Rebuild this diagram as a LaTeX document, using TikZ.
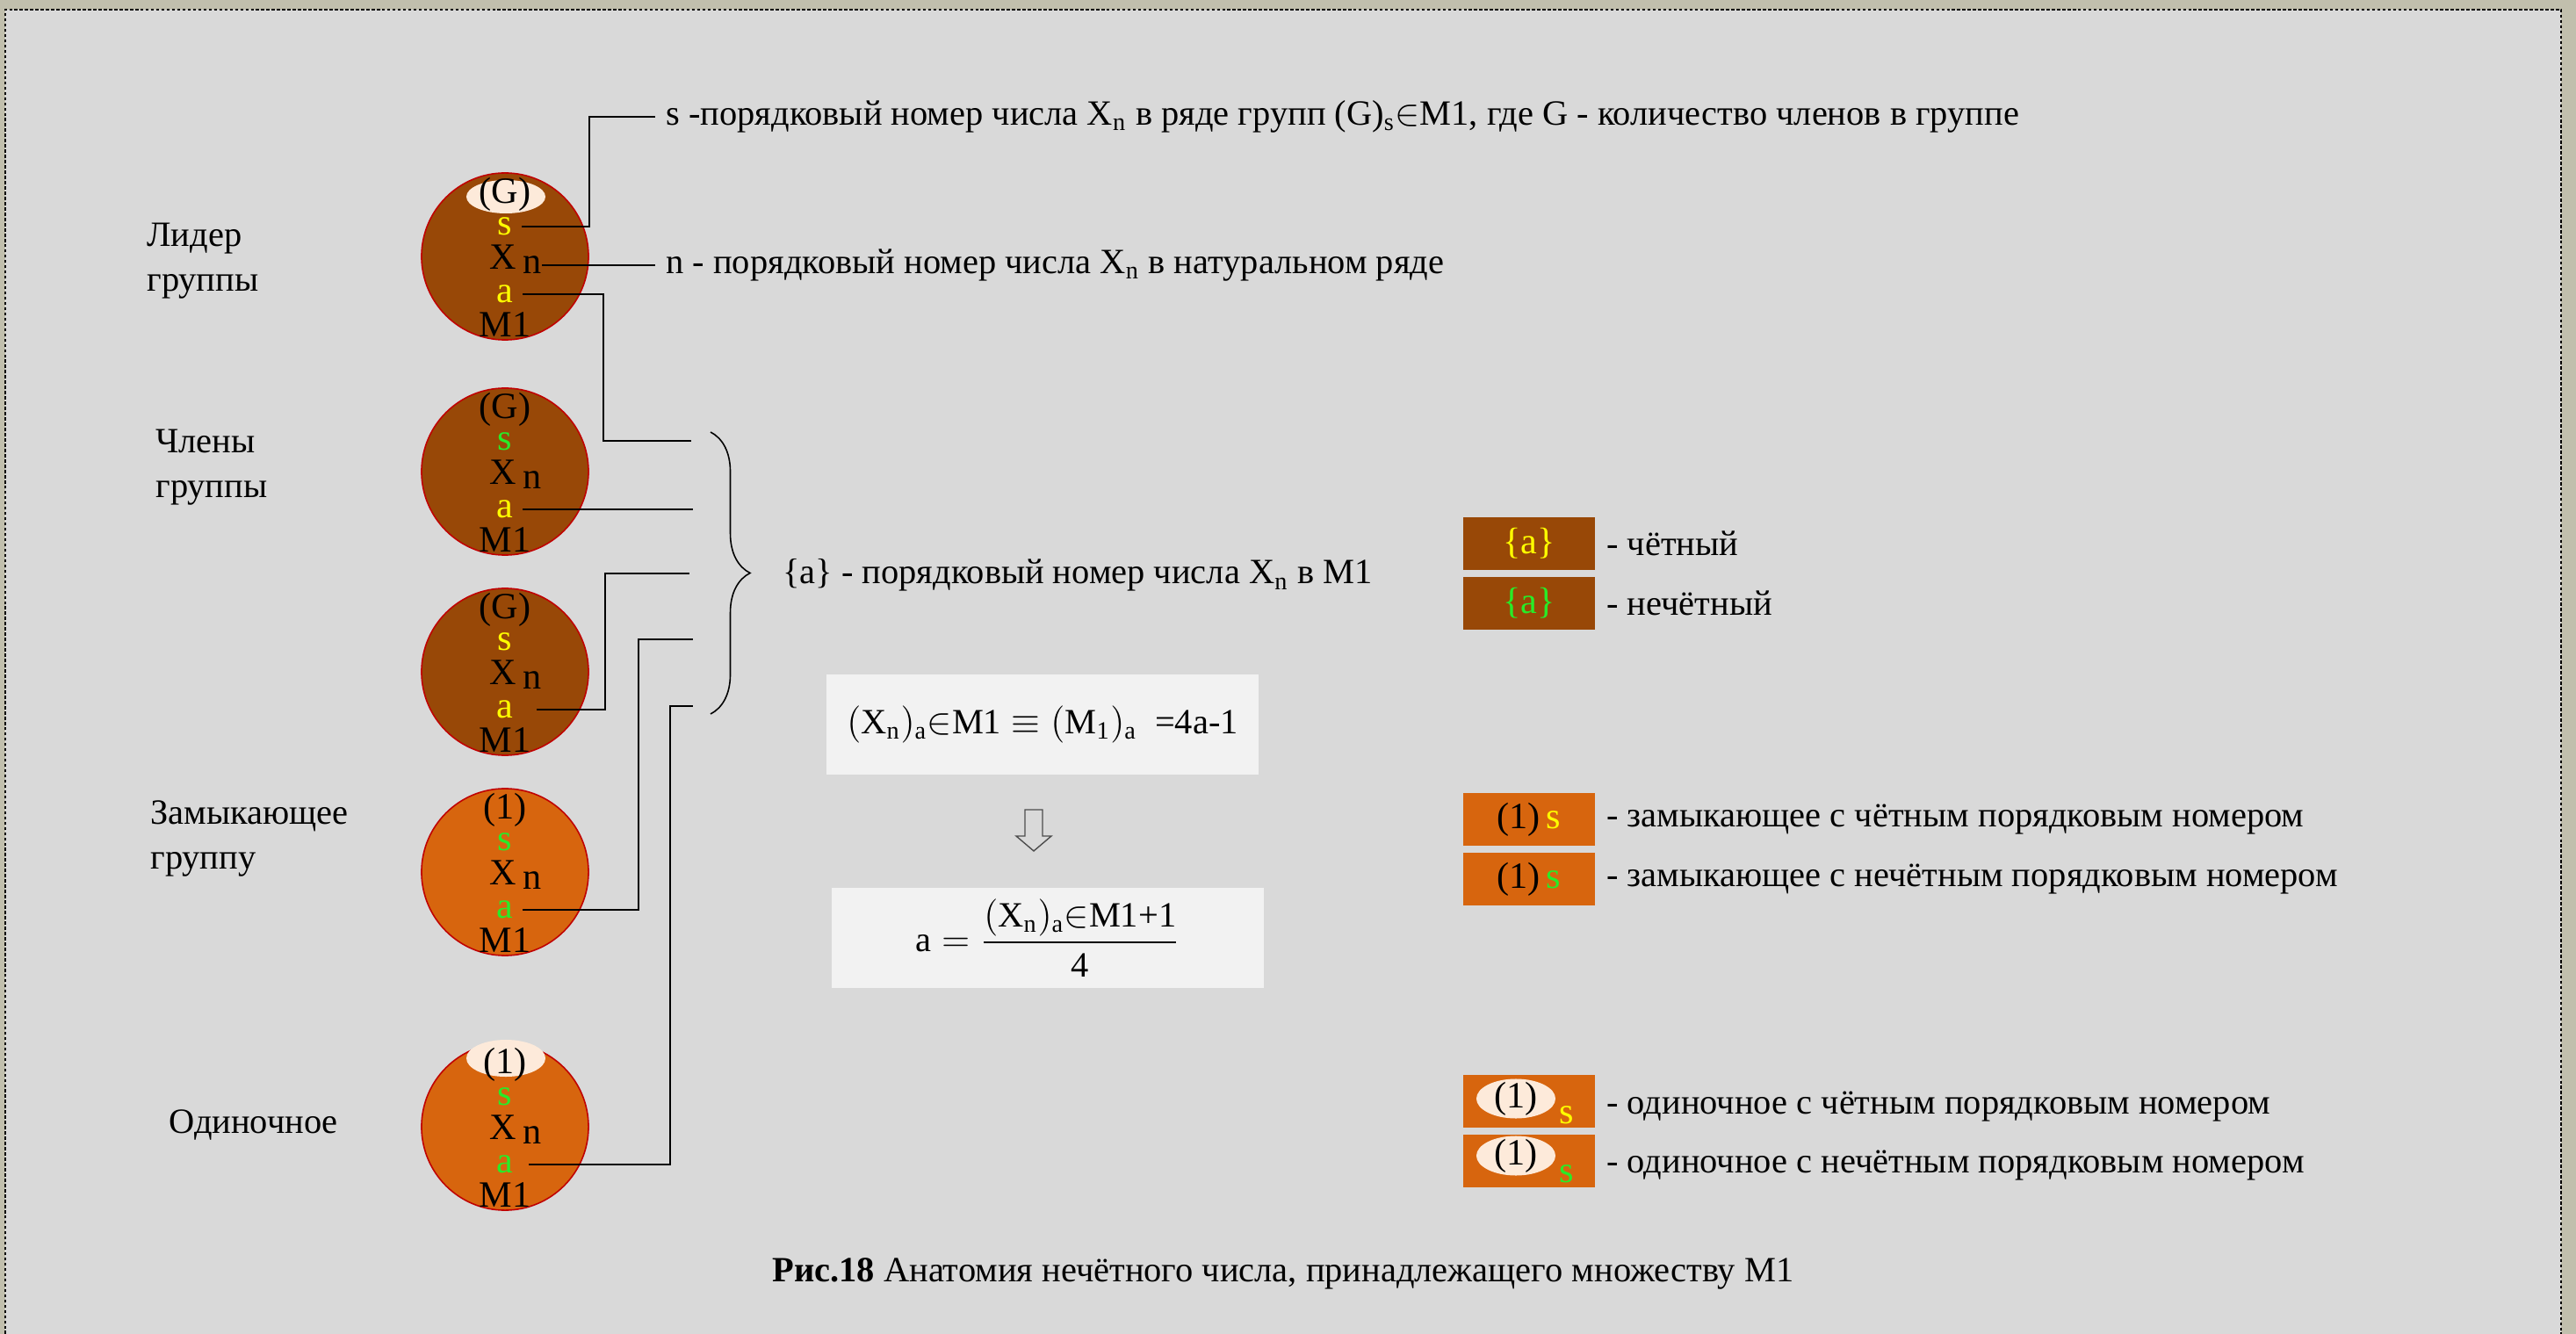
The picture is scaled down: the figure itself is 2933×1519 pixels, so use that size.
\documentclass[tikz,border=0pt]{standalone}
\usepackage{fontspec}
\usepackage{amsmath}
\setmainfont{Liberation Serif}
\usetikzlibrary{calc,decorations.pathreplacing}

\definecolor{bgrey}{RGB}{217,217,217}
\definecolor{frame}{RGB}{193,191,173}
\definecolor{brownM}{RGB}{152,72,7}
\definecolor{orangeM}{RGB}{215,101,14}
\definecolor{paleM}{RGB}{253,234,218}
\definecolor{boxgrey}{RGB}{242,242,242}
\definecolor{evenc}{RGB}{255,255,0}
\definecolor{oddc}{RGB}{40,235,40}
\definecolor{rimc}{RGB}{192,0,0}

\tikzset{
  txt/.style={font=\fontsize{11.5}{14.5}\selectfont, align=left},
  ball/.style={circle, draw=rimc, line width=0.45pt, minimum size=1.9cm, inner sep=0},
  inball/.style={font=\fontsize{12}{13}\selectfont, inner sep=0},
  tag/.style={inball, inner xsep=0.1cm},
  lgbox/.style={minimum width=1.5cm, minimum height=0.6cm, inner sep=0, font=\fontsize{12}{13}\selectfont},
  fbox/.style={fill=boxgrey, minimum width=4.92cm, minimum height=1.14cm, font=\fontsize{11.5}{13}\selectfont},
  wire/.style={line width=0.45pt}
}

\begin{document}
\begin{tikzpicture}[x=0.01cm, y=-0.01cm]
    \useasboundingbox (0,0) rectangle (2933,1519);

    %frame
    \fill[frame] (0,0) rectangle (2933,1519);
    \fill[bgrey] (6,11) rectangle (2916,1519);
    \draw[dash pattern=on 1pt off 0.7pt, line width=0.6pt] (6,1519) -- (6,11) -- (2916,11) -- (2916,1519);

    %circles
    \foreach \i/\y/\fc in {1/292/brownM, 2/537/brownM, 3/765/brownM, 4/993/orangeM, 5/1283/orangeM}
        \node[ball, fill=\fc] (c\i) at (575,\y) {};
    \fill[paleM] (576,224) ellipse [x radius=0.45cm, y radius=0.19cm];
    \fill[paleM] (576,1205) ellipse [x radius=0.45cm, y radius=0.21cm];

    %circle texts
    \foreach \i/\y/\lab/\sc/\ac in {1/292/(G)/evenc/evenc, 2/537/(G)/oddc/evenc, 3/765/(G)/evenc/evenc, 4/993/(1)/oddc/oddc, 5/1283/(1)/oddc/oddc}{
        \node[inball] (c\i g) at (575,\y-71) {\lab};
        \node[tag, text=\sc] (c\i s) at (575,\y-34) {s};
        \node[inball] (c\i x) at (587,\y+3) {X\,\raisebox{-1.5pt}{n}};
        \node[tag, text=\ac] (c\i a) at (575,\y+43) {a};
        \node[inball] (c\i m) at (575,\y+78) {M1};
    }

    %labels
    \node[txt, anchor=west] (lead) at (155,297) {Лидер\\группы};
    \node[txt, anchor=west] (memb) at (165,532) {Члены\\группы};
    \node[txt, anchor=west] (clos) at (159,955) {Замыкающее\\группу};
    \node[txt, anchor=west] (sing) at (180,1281) {Одиночное};

    %descriptions
    \coordinate (sb) at (671,133);
    \node[txt, anchor=west] (sdesc) at (746,133) {s -порядковый номер числа X\textsubscript{n} в ряде групп (G)\textsubscript{s}$\in$M1, где G - количество членов в группе};
    \node[txt, anchor=west] (ndesc) at (746,302) {n - порядковый номер числа X\textsubscript{n} в натуральном ряде};
    \draw[wire] (c1s.east) -| (sb) -- (sdesc.west);
    \draw[wire] (c1x.east |- ndesc.west) -- (ndesc.west);

    %connectors to the brace
    \coordinate (j1) at (687,502); \coordinate (b1) at (787,502);
    \coordinate (b2) at (789,580);
    \coordinate (j3) at (689,653); \coordinate (b3) at (785,653);
    \coordinate (j4) at (727,728); \coordinate (b4) at (789,728);
    \coordinate (j5) at (763,804); \coordinate (b5) at (789,804);
    \draw[wire] (c1a.east) -| (j1) -- (b1);
    \draw[wire] (c2a.east) -- (b2);
    \draw[wire] ($(c3a.east)+(16,0)$) -| (j3) -- (b3);
    \draw[wire] (c4a.east) -| (j4) -- (b4);
    \draw[wire] ($(c5a.east)+(7,0)$) -| (j5) -- (b5);

    %brace
    \coordinate (br1) at (809,492);
    \coordinate (br2) at (809,813);
    \draw[wire, decorate, decoration={brace, amplitude=0.45cm}] (br1) -- (br2);
    \coordinate (brtip) at (856,653);
    \node[txt, anchor=west] (adesc) at ($(brtip)+(23,2)$) {\{a\} - порядковый номер числа X\textsubscript{n} в М1};

    %formulas
    \node[fbox] (f1) at (1187,825) {$(\text{X}_\text{n})_\text{a}{\in}\text{M1} \equiv (\text{M}_\text{1})_\text{a}$\ \ =4a-1};
    \node[fbox] (f2) at (1193,1068) {$\text{a} = \dfrac{(\text{X}_\text{n})_\text{a}{\in}\text{M1+1}}{\text{4}}$};
    \coordinate (ar) at (1177,922);
    \draw[line width=0.4pt, draw=black!70] (ar) ++(-10,0) -- ++(20,0) -- ++(0,30) -- ++(10,0) -- ++(-20,17) -- ++(-20,-17) -- ++(10,0) -- cycle;

    %legend
    \node[lgbox, fill=brownM, text=evenc] (lg1) at (1741,619) {\{a\}};
    \node[lgbox, fill=brownM, text=oddc] (lg2) at (1741,687) {\{a\}};
    \node[lgbox, fill=orangeM] (lg3) at (1741,933) {(1)\,\textcolor{evenc}{s}};
    \node[lgbox, fill=orangeM] (lg4) at (1741,1001) {(1)\,\textcolor{oddc}{s}};
    \node[lgbox, fill=orangeM] (lg5) at (1741,1254) {};
    \node[lgbox, fill=orangeM] (lg6) at (1741,1322) {};
    \fill[paleM] (1726,1251) ellipse [x radius=0.45cm, y radius=0.225cm];
    \fill[paleM] (1726,1316) ellipse [x radius=0.45cm, y radius=0.225cm];
    \node[inball] (lg5n) at (1726,1251) {(1)};
    \node[inball, text=evenc] (lg5s) at (1784,1270) {s};
    \node[inball] (lg6n) at (1726,1316) {(1)};
    \node[inball, text=oddc] (lg6s) at (1784,1337) {s};
    \node[txt, anchor=west] (lt1) at (lg1.east) {- чётный};
    \node[txt, anchor=west] (lt2) at (lg2.east) {- нечётный};
    \node[txt, anchor=west] (lt3) at (lg3.east) {- замыкающее с чётным порядковым номером};
    \node[txt, anchor=west] (lt4) at (lg4.east) {- замыкающее с нечётным порядковым номером};
    \node[txt, anchor=west] (lt5) at ($(lg5.east)+(0,6)$) {- одиночное с чётным порядковым номером};
    \node[txt, anchor=west] (lt6) at ($(lg6.east)+(0,5)$) {- одиночное с нечётным порядковым номером};

    %caption
    \node[txt] (cap) at (1461,1450) {\textbf{Рис.18} Анатомия нечётного числа, принадлежащего множеству М1};
\end{tikzpicture}
\end{document}
